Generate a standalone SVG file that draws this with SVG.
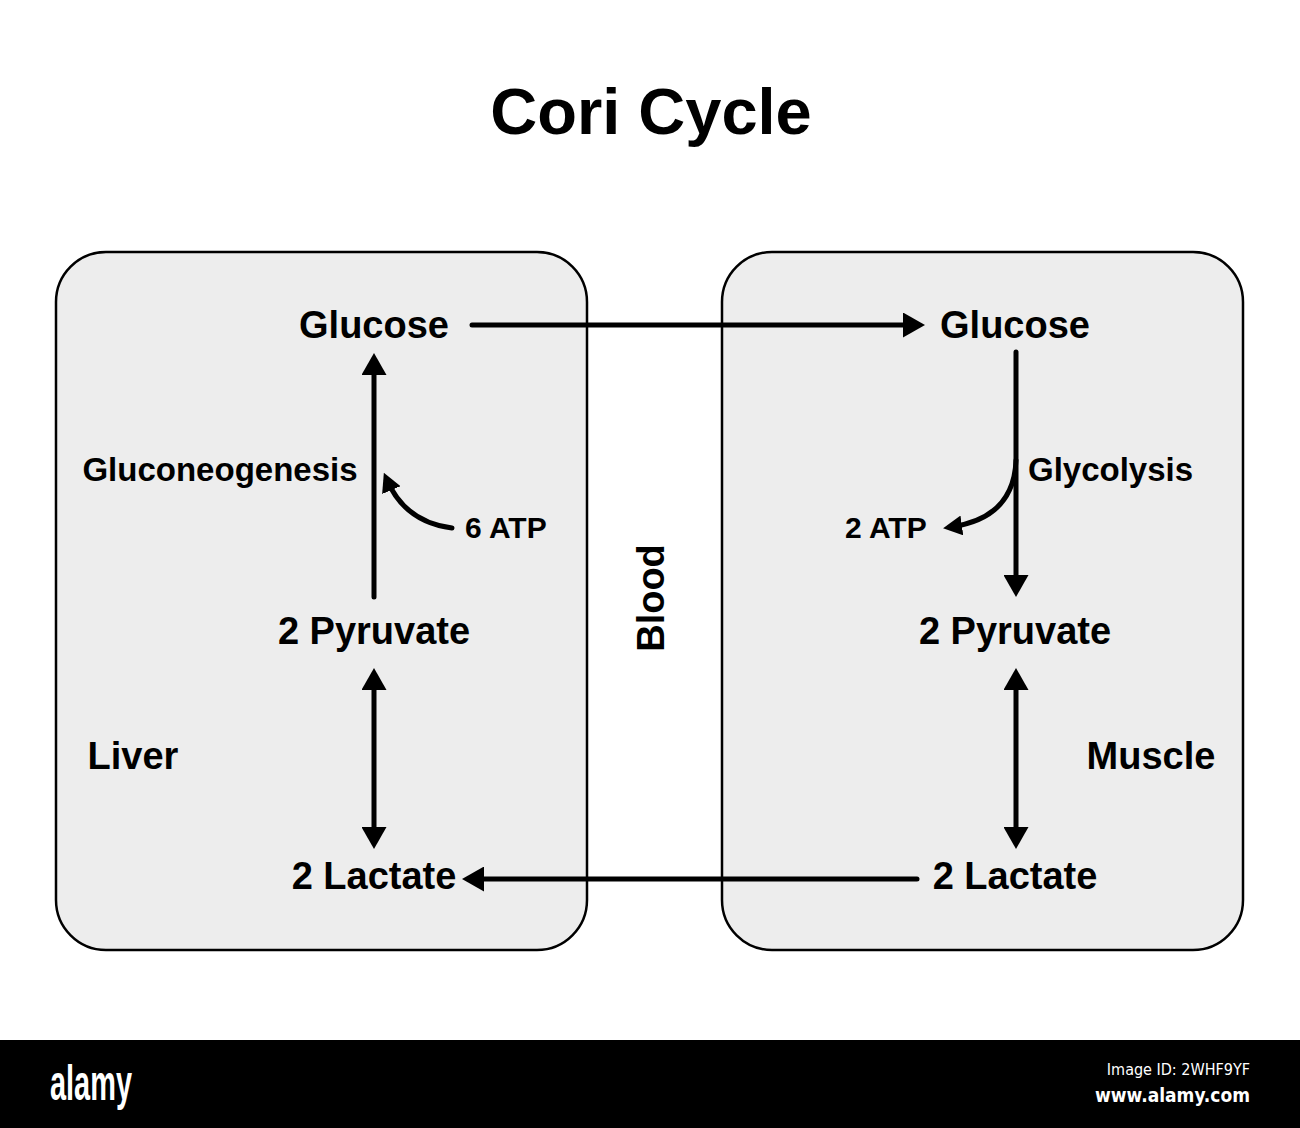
<svg xmlns="http://www.w3.org/2000/svg" width="1300" height="1128" viewBox="0 0 1300 1128">
<style>
.box{fill:#ededed;stroke:#000;stroke-width:2.5}
.t{font-family:"Liberation Sans",Arial,Helvetica,sans-serif;font-weight:bold;fill:#000}
.big{font-size:38px}
.mid{font-size:33px}
.sm{font-size:30px}
.ln{fill:none;stroke:#000;stroke-width:5;stroke-linecap:round}
</style>
<defs>
<marker id="ah" viewBox="0 0 22 25" refX="13" refY="12.5" markerWidth="22" markerHeight="25" markerUnits="userSpaceOnUse" orient="auto-start-reverse">
<path d="M0,0 L22,12.5 L0,25 Z" fill="#000"/>
</marker>
<marker id="ahs" viewBox="0 0 19 20" refX="11" refY="10" markerWidth="19" markerHeight="20" markerUnits="userSpaceOnUse" orient="auto">
<path d="M0,0 L19,10 L0,20 Z" fill="#000"/>
</marker>
</defs>
<rect width="1300" height="1128" fill="#fff"/>
<text class="t" x="651" y="134" font-size="65" text-anchor="middle">Cori Cycle</text>
<g id="liver">
<rect class="box" x="56" y="252" width="531" height="698" rx="50"/>
<text class="t big" x="133" y="769" text-anchor="middle">Liver</text>
</g>
<g id="muscle">
<rect class="box" x="722" y="252" width="521" height="698" rx="50"/>
<text class="t big" x="1151" y="769" text-anchor="middle">Muscle</text>
</g>
<g id="blood">
<text class="t big" transform="translate(664,598) rotate(-90)" text-anchor="middle">Blood</text>
</g>
<g id="glucose-liver"><text class="t big" x="374" y="338" text-anchor="middle">Glucose</text></g>
<g id="pyruvate-liver"><text class="t big" x="374" y="644" text-anchor="middle">2 Pyruvate</text></g>
<g id="lactate-liver"><text class="t big" x="374" y="889" text-anchor="middle">2 Lactate</text></g>
<g id="glucose-muscle"><text class="t big" x="1015" y="338" text-anchor="middle">Glucose</text></g>
<g id="pyruvate-muscle"><text class="t big" x="1015" y="644" text-anchor="middle">2 Pyruvate</text></g>
<g id="lactate-muscle"><text class="t big" x="1015" y="889" text-anchor="middle">2 Lactate</text></g>
<g id="labels">
<text class="t mid" x="220" y="481" text-anchor="middle">Gluconeogenesis</text>
<text class="t mid" x="1028" y="481">Glycolysis</text>
<text class="t sm" x="465" y="538">6 ATP</text>
<text class="t sm" x="845" y="538">2 ATP</text>
</g>
<g id="connectors">
<line class="ln" x1="374" y1="597" x2="374" y2="362" marker-end="url(#ah)"/>
<path class="ln" d="M452,528 Q405,522 387,480" marker-end="url(#ahs)"/>
<line class="ln" x1="472" y1="325" x2="916" y2="325" marker-end="url(#ah)"/>
<line class="ln" x1="1016" y1="352" x2="1016" y2="588" marker-end="url(#ah)"/>
<path class="ln" d="M1016,460 Q1014,518 951,527" marker-end="url(#ahs)"/>
<line class="ln" x1="374" y1="677" x2="374" y2="840" marker-start="url(#ah)" marker-end="url(#ah)"/>
<line class="ln" x1="1016" y1="677" x2="1016" y2="840" marker-start="url(#ah)" marker-end="url(#ah)"/>
<line class="ln" x1="917" y1="879" x2="471" y2="879" marker-end="url(#ah)"/>
</g>
<g id="footer">
<rect x="0" y="1040" width="1300" height="88" fill="#000"/>
<text x="50" y="1100" font-family="Liberation Sans,Arial,sans-serif" font-weight="bold" font-size="50" fill="#fff" textLength="82" lengthAdjust="spacingAndGlyphs">alamy</text>
<text x="1250" y="1075" font-family="DejaVu Sans Condensed,DejaVu Sans,sans-serif" font-size="16" fill="#fff" text-anchor="end">Image ID: 2WHF9YF</text>
<text x="1250" y="1102" font-family="DejaVu Sans Condensed,DejaVu Sans,sans-serif" font-weight="bold" font-size="19" fill="#fff" text-anchor="end">www.alamy.com</text>
</g>
</svg>
